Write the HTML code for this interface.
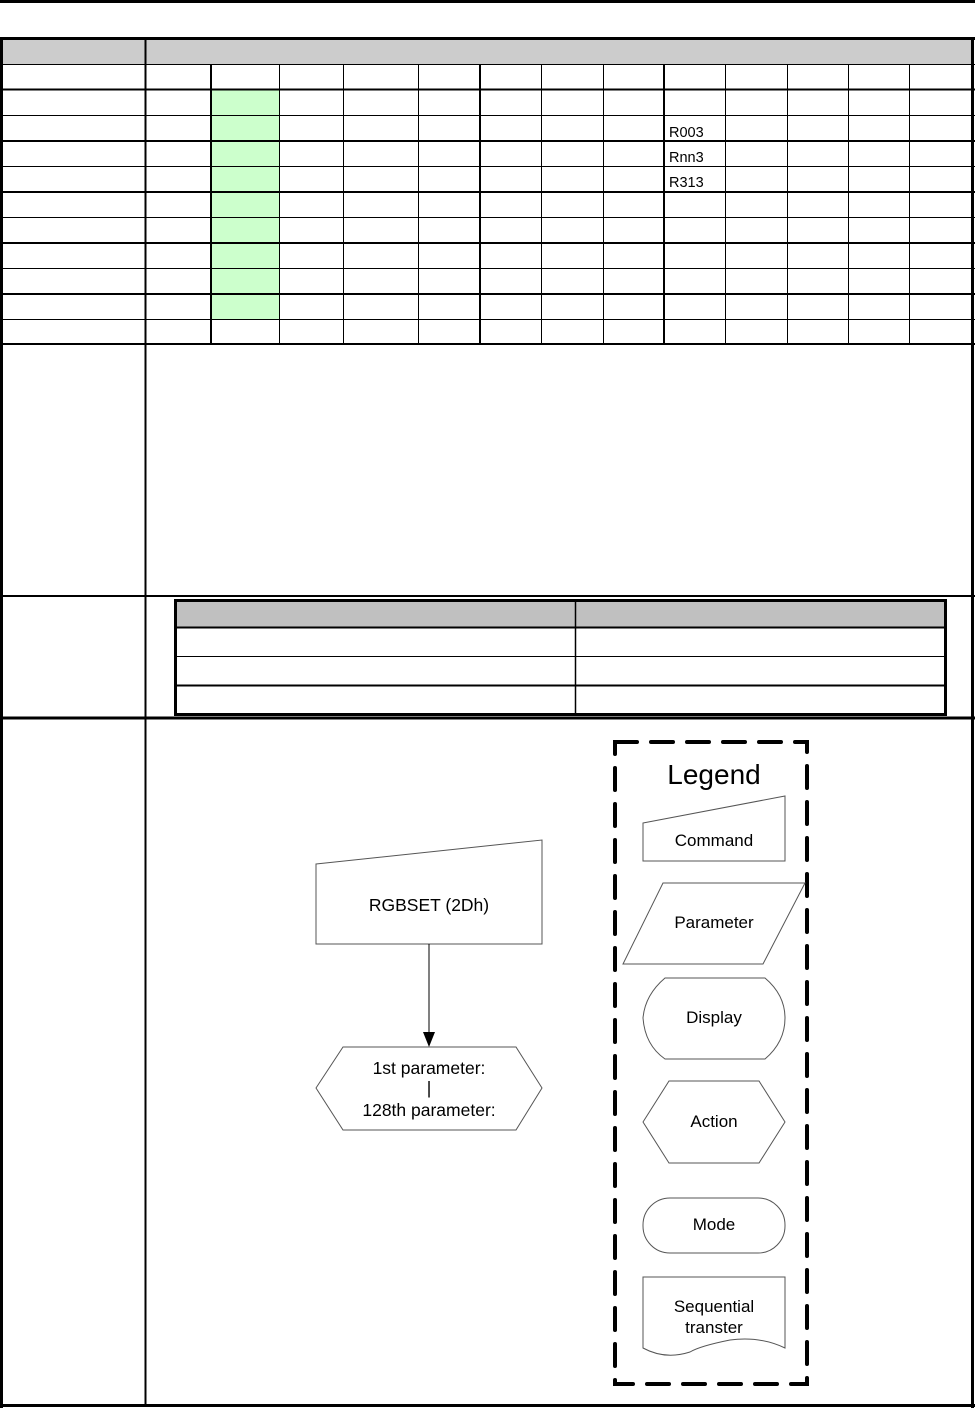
<!DOCTYPE html>
<html><head><meta charset="utf-8"><style>
html,body{margin:0;padding:0;background:#fff;}
svg{display:block;}
text{font-family:"Liberation Sans",Arial,sans-serif;}
</style></head><body>
<svg width="975" height="1408" viewBox="0 0 975 1408" xmlns="http://www.w3.org/2000/svg">
<line x1="0" y1="1.5" x2="975" y2="1.5" stroke="#000" stroke-width="3"/>
<rect x="2" y="39" width="970" height="25" fill="#cccccc"/>
<rect x="211" y="89" width="68" height="230" fill="#ccffcc"/>
<g stroke="#000">
<line x1="0" y1="38.5" x2="975" y2="38.5" stroke-width="3"/>
<line x1="1.5" y1="37" x2="1.5" y2="1408" stroke-width="3"/>
<line x1="972.5" y1="37" x2="972.5" y2="1408" stroke-width="3"/>
<line x1="0" y1="1405.5" x2="975" y2="1405.5" stroke-width="3"/>
<line x1="145.5" y1="37" x2="145.5" y2="1405" stroke-width="2"/>
<g stroke-width="1">
<line x1="0" y1="64.5" x2="975" y2="64.5"/>
<line x1="0" y1="115.5" x2="975" y2="115.5"/>
<line x1="0" y1="166.5" x2="975" y2="166.5"/>
<line x1="0" y1="217.5" x2="975" y2="217.5"/>
<line x1="0" y1="268.5" x2="975" y2="268.5"/>
<line x1="0" y1="319.5" x2="975" y2="319.5"/>
</g>
<g stroke-width="2">
<line x1="0" y1="89.5" x2="975" y2="89.5"/>
<line x1="0" y1="141" x2="975" y2="141"/>
<line x1="0" y1="192" x2="975" y2="192"/>
<line x1="0" y1="243" x2="975" y2="243"/>
<line x1="0" y1="294" x2="975" y2="294"/>
<line x1="0" y1="344" x2="975" y2="344"/>
<line x1="0" y1="596" x2="975" y2="596"/>
<line x1="0" y1="718" x2="975" y2="718" stroke-width="3"/>
</g>
<g stroke-width="1">
<line x1="279.5" y1="64" x2="279.5" y2="344"/>
<line x1="343.5" y1="64" x2="343.5" y2="344"/>
<line x1="418.5" y1="64" x2="418.5" y2="344"/>
<line x1="541.5" y1="64" x2="541.5" y2="344"/>
<line x1="603.5" y1="64" x2="603.5" y2="344"/>
<line x1="725.5" y1="64" x2="725.5" y2="344"/>
<line x1="787.5" y1="64" x2="787.5" y2="344"/>
<line x1="848.5" y1="64" x2="848.5" y2="344"/>
<line x1="909.5" y1="64" x2="909.5" y2="344"/>
</g>
<g stroke-width="2">
<line x1="211" y1="64" x2="211" y2="344"/>
<line x1="480" y1="64" x2="480" y2="344"/>
<line x1="664" y1="64" x2="664" y2="344"/>
</g>
</g>
<g font-size="14.5" fill="#000">
<text x="669" y="137">R003</text>
<text x="669" y="162">Rnn3</text>
<text x="669" y="187">R313</text>
</g>
<rect x="176" y="601" width="769" height="26" fill="#c0c0c0"/>
<g stroke="#000">
<rect x="175.5" y="600.5" width="770" height="114" fill="none" stroke-width="3"/>
<line x1="175" y1="627.5" x2="946" y2="627.5" stroke-width="2"/>
<line x1="175" y1="656.5" x2="946" y2="656.5" stroke-width="1"/>
<line x1="175" y1="685.5" x2="946" y2="685.5" stroke-width="2"/>
<line x1="575.5" y1="600" x2="575.5" y2="715" stroke-width="1.5"/>
</g>
<g stroke="#555" stroke-width="1" fill="#fff">
<polygon points="316,864 542,840 542,944 316,944"/>
<polygon points="316,1088 343,1047 516,1047 542,1088 516,1130 343,1130"/>
</g>
<line x1="429" y1="944" x2="429" y2="1033" stroke="#000" stroke-width="1"/>
<polygon points="423,1032 435,1032 429,1047" fill="#000"/>
<g font-size="17.5" fill="#000" text-anchor="middle">
<text x="429" y="911">RGBSET (2Dh)</text>
<text x="429" y="1074">1st parameter:</text>
<text x="429" y="1094">|</text>
<text x="429" y="1116">128th parameter:</text>
</g>
<rect x="615" y="742" width="192" height="642" fill="none" stroke="#000" stroke-width="4" stroke-dasharray="22,14" stroke-linecap="round"/>
<text x="714" y="784" font-size="28" text-anchor="middle">Legend</text>
<g stroke="#555" stroke-width="1" fill="#fff">
<polygon points="643,823 785,796 785,861 643,861"/>
<polygon points="663,883 805,883 763,964 623,964"/>
<path d="M665,978 L765,978 Q785,995 785,1018 Q785,1042 765,1059 L665,1059 Q645,1045 643,1018 Q645,995 665,978 Z"/>
<polygon points="643,1122 669,1081 759,1081 785,1122 759,1163 669,1163"/>
<rect x="643" y="1198" width="142" height="55" rx="27" ry="27"/>
<path d="M643,1277 L785,1277 L785,1348 Q760,1336 730,1340 Q700,1346 690,1352 Q665,1360 643,1348 Z"/>
</g>
<g font-size="17" fill="#000" text-anchor="middle">
<text x="714" y="846">Command</text>
<text x="714" y="928">Parameter</text>
<text x="714" y="1023">Display</text>
<text x="714" y="1127">Action</text>
<text x="714" y="1230">Mode</text>
<text x="714" y="1312">Sequential</text>
<text x="714" y="1333">transter</text>
</g>
</svg>
</body></html>
